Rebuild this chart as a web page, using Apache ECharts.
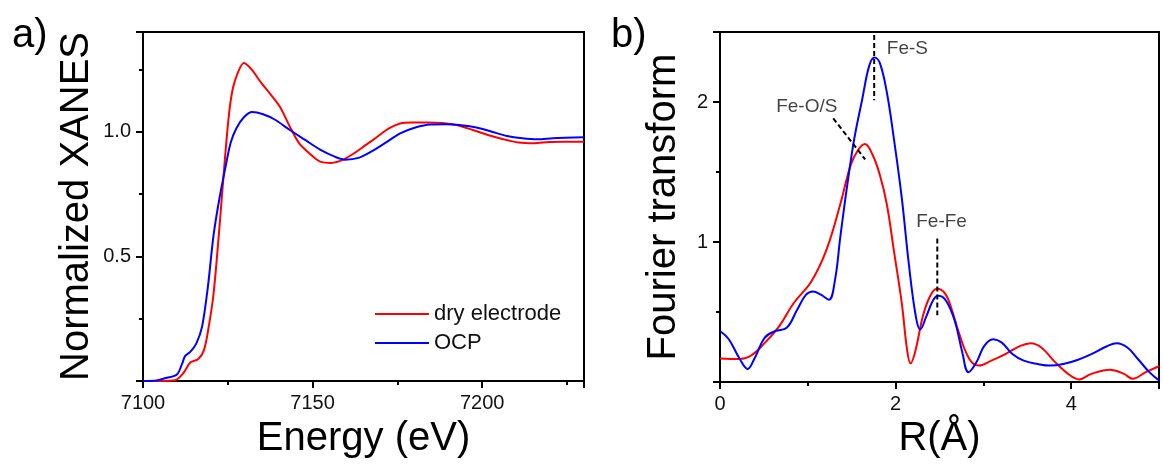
<!DOCTYPE html>
<html>
<head>
<meta charset="utf-8">
<script src="https://cdn.jsdelivr.net/npm/echarts@6/dist/echarts.min.js"></script>
<style>
  html, body { margin: 0; padding: 0; background: #fff; }
  #chart { width: 1163px; height: 464px; }
</style>
</head>
<body>
<div id="chart"></div>
<script>
// a) Fe K-edge XANES
const dryEnergy = [7100, 7105, 7109.5, 7111.8, 7114, 7116.3, 7118, 7119.4, 7120.8, 7122.5, 7124.2, 7125.6, 7127, 7129.8, 7132, 7134.8, 7137.6, 7140.4, 7143.3, 7146, 7148.9, 7152.2, 7155.6, 7159, 7162.4, 7165.7, 7169.1, 7172.5, 7175.8, 7179.2, 7183.7, 7188.2, 7192.7, 7197.2, 7201.7, 7206.2, 7210.7, 7215.2, 7219.7, 7224.2, 7230]
const dryXanes = [0, 0, 0.003, 0.03, 0.075, 0.088, 0.125, 0.22, 0.35, 0.61, 0.9, 1.1, 1.2, 1.276, 1.25, 1.197, 1.15, 1.099, 1.02, 0.954, 0.915, 0.88, 0.875, 0.888, 0.915, 0.947, 0.98, 1.013, 1.033, 1.037, 1.037, 1.035, 1.026, 1.007, 0.987, 0.97, 0.957, 0.954, 0.959, 0.96, 0.96]
const ocpEnergy = [7100, 7104, 7106.2, 7110, 7111.6, 7112.4, 7114, 7115.7, 7117.4, 7119.1, 7120.8, 7122.5, 7124.2, 7125.8, 7127.5, 7129.8, 7132.2, 7135.4, 7138.8, 7143.3, 7147.8, 7152.2, 7156.7, 7159.6, 7163.5, 7167.4, 7171.3, 7175.8, 7180.3, 7184.8, 7189.3, 7193.8, 7198.3, 7202.8, 7207.3, 7211.8, 7216.3, 7220.8, 7230]
const ocpXanes = [0, 0.002, 0.01, 0.026, 0.072, 0.1, 0.118, 0.15, 0.217, 0.375, 0.585, 0.73, 0.85, 0.954, 1.013, 1.059, 1.079, 1.07, 1.049, 1.007, 0.967, 0.928, 0.899, 0.888, 0.895, 0.921, 0.954, 0.993, 1.017, 1.029, 1.03, 1.026, 1.017, 1.0, 0.983, 0.974, 0.97, 0.974, 0.978]

// b) Fourier transform
const dryR = [0.0, 0.225, 0.35, 0.51, 0.675, 0.84, 1.04, 1.21, 1.37, 1.49, 1.575, 1.65, 1.74, 1.82, 1.9, 1.98, 2.07, 2.13, 2.17, 2.23, 2.31, 2.39, 2.47, 2.56, 2.64, 2.72, 2.84, 2.945, 3.09, 3.25, 3.42, 3.54, 3.66, 3.82, 3.99, 4.09, 4.23, 4.44, 4.6, 4.7, 4.85, 5.0]
const dryFT = [0.169, 0.165, 0.188, 0.28, 0.4, 0.565, 0.718, 0.94, 1.27, 1.553, 1.659, 1.7, 1.62, 1.48, 1.27, 0.94, 0.565, 0.235, 0.134, 0.235, 0.47, 0.61, 0.666, 0.635, 0.518, 0.353, 0.165, 0.118, 0.153, 0.2, 0.259, 0.278, 0.247, 0.141, 0.047, 0.019, 0.059, 0.089, 0.059, 0.024, 0.071, 0.113]
const ocpR = [0.0, 0.1, 0.225, 0.315, 0.39, 0.51, 0.63, 0.76, 0.88, 0.98, 1.06, 1.15, 1.24, 1.31, 1.37, 1.45, 1.53, 1.62, 1.7, 1.76, 1.82, 1.9, 1.98, 2.07, 2.15, 2.23, 2.28, 2.35, 2.43, 2.49, 2.58, 2.68, 2.76, 2.83, 2.92, 3.01, 3.11, 3.21, 3.33, 3.46, 3.62, 3.76, 3.91, 4.07, 4.23, 4.4, 4.52, 4.64, 4.76, 4.89, 5.0]
const ocpFT = [0.365, 0.306, 0.165, 0.094, 0.165, 0.318, 0.365, 0.388, 0.518, 0.624, 0.647, 0.624, 0.588, 0.73, 1.035, 1.41, 1.74, 2.02, 2.26, 2.318, 2.28, 2.07, 1.74, 1.318, 0.847, 0.47, 0.376, 0.47, 0.588, 0.616, 0.576, 0.424, 0.212, 0.071, 0.141, 0.259, 0.306, 0.282, 0.2, 0.153, 0.129, 0.118, 0.129, 0.158, 0.2, 0.254, 0.278, 0.247, 0.165, 0.071, 0.012]

// peak assignments: dashed guide lines and their labels
const feSLine = [[1.756, 2.478], [1.756, 2.012]]
const feOSLine = [[1.29, 1.883], [1.653, 1.591]]
const feFeLine = [[2.475, 1.026], [2.475, 0.478]]
const peakLabels = [
  { name: 'Fe-S', value: [1.9, 2.379] },
  { name: 'Fe-O/S', value: [0.64, 1.968] },
  { name: 'Fe-Fe', value: [2.235, 1.144] },
]

const zip = (xs, ys) => xs.map((x, i) => [x, ys[i]])

const FONT = '"Liberation Sans", Arial, sans-serif'
const RED = '#ff0000'
const BLUE = '#0000ff'

function valueAxis(extra) {
  return Object.assign({
    type: 'value',
    axisLine: { show: true, lineStyle: { color: '#000', width: 2 } },
    axisTick: { show: true, length: 7, lineStyle: { color: '#000', width: 2 } },
    minorTick: { show: true, splitNumber: 2, length: 4, lineStyle: { color: '#000', width: 2 } },
    splitLine: { show: false },
    nameLocation: 'middle',
    nameTextStyle: { fontFamily: FONT, fontSize: 40, color: '#000' },
  }, extra)
}

const tickLabel = (fmt) => ({ fontFamily: FONT, fontSize: 20, color: '#111', margin: 12, formatter: fmt })

const guide = (data, xi, yi) => ({
  type: 'line',
  xAxisIndex: xi,
  yAxisIndex: yi,
  data,
  symbol: 'none',
  silent: true,
  lineStyle: { color: '#000', width: 2, type: [5, 3] },
  z: 3,
})

const curve = (name, xs, ys, color, xi, smooth) => ({
  name,
  type: 'line',
  xAxisIndex: xi,
  yAxisIndex: xi,
  data: zip(xs, ys),
  symbol: 'none',
  smooth,
  lineStyle: { color, width: 2 },
  itemStyle: { color },
})

const chart = echarts.init(document.getElementById('chart'), null, { renderer: 'canvas' })

chart.setOption({
  animation: false,
  backgroundColor: '#fff',
  graphic: [
    { type: 'text', x: 12, y: 16, style: { text: 'a)', font: '40px ' + FONT, fill: '#000' } },
    { type: 'text', x: 611, y: 16, style: { text: 'b)', font: '40px ' + FONT, fill: '#000' } },
  ],
  legend: {
    data: ['dry electrode', 'OCP'],
    orient: 'vertical',
    left: 370,
    top: 298,
    itemWidth: 54,
    itemHeight: 2,
    itemGap: 7,
    icon: 'rect',
    textStyle: { fontFamily: FONT, fontSize: 22, color: '#111', lineHeight: 22 },
  },
  grid: [
    { left: 143, top: 32, right: 579, bottom: 77, show: true, borderColor: '#000', borderWidth: 2 },
    { left: 720, top: 32, right: 4, bottom: 78, show: true, borderColor: '#000', borderWidth: 2 },
  ],
  xAxis: [
    valueAxis({
      gridIndex: 0, min: 7100, max: 7230, interval: 50,
      name: 'Energy (eV)', nameGap: 38,
      axisLabel: tickLabel((v) => (v % 50 === 0 ? String(v) : '')),
    }),
    valueAxis({
      gridIndex: 1, min: 0, max: 5, interval: 2,
      name: 'R(Å)', nameGap: 34,
      axisLabel: tickLabel((v) => (v % 2 === 0 ? String(v) : '')),
    }),
  ],
  yAxis: [
    valueAxis({
      gridIndex: 0, min: 0, max: 1.4, interval: 0.5,
      name: 'Normalized XANES', nameGap: 46,
      axisLabel: tickLabel((v) => (v > 0 && Math.abs(v * 2 - Math.round(v * 2)) < 1e-6 ? v.toFixed(1) : '')),
    }),
    valueAxis({
      gridIndex: 1, min: 0, max: 2.5, interval: 1,
      name: 'Fourier transform', nameGap: 36,
      axisLabel: tickLabel((v) => (v > 0 && Number.isInteger(v) ? String(v) : '')),
    }),
  ],
  series: [
    curve('dry electrode', dryEnergy, dryXanes, RED, 0, 0.3),
    curve('OCP', ocpEnergy, ocpXanes, BLUE, 0, 0.3),
    curve('dry FT', dryR, dryFT, RED, 1, 0.4),
    curve('OCP FT', ocpR, ocpFT, BLUE, 1, 0.4),
    guide(feSLine, 1, 1),
    guide(feOSLine, 1, 1),
    guide(feFeLine, 1, 1),
    {
      type: 'scatter', xAxisIndex: 1, yAxisIndex: 1,
      data: peakLabels, symbolSize: 0, silent: true,
      label: {
        show: true, position: 'right', distance: 0, formatter: '{b}',
        fontFamily: FONT, fontSize: 19, color: '#111',
      },
    },
  ],
})
</script>
</body>
</html>
